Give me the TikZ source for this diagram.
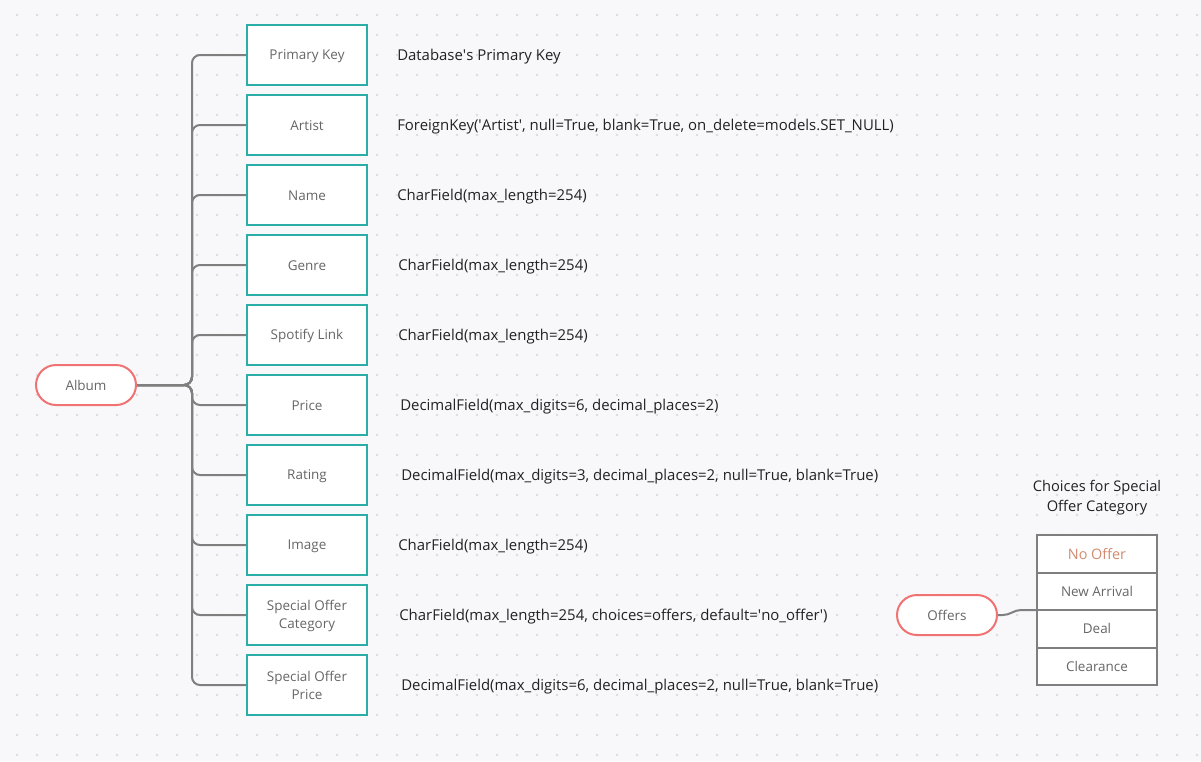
\documentclass[tikz,border=0pt]{standalone}
\usepackage{fontspec}
\setmainfont{Open Sans}
\definecolor{bgc}{HTML}{F8F8FA}
\definecolor{dotc}{HTML}{DCDCE0}
\definecolor{teal}{HTML}{2BADA8}
\definecolor{pill}{HTML}{F07272}
\definecolor{conc}{HTML}{7F7F7F}
\definecolor{labc}{HTML}{666666}
\definecolor{txtc}{HTML}{222222}
\definecolor{offc}{HTML}{D38B70}
\newcommand{\q}{\textquotesingle}
\begin{document}
\begin{tikzpicture}[x=0.75pt,y=-0.75pt,
  labtext/.style={inner sep=0pt,align=center,text=labc,font=\fontsize{10.1}{13.5}\selectfont},
  fieldbox/.style={draw=teal,line width=1.5pt,fill=white,minimum width=90pt,minimum height=45pt,
    inner sep=0pt},
  pillnode/.style={draw=pill,line width=1.5pt,fill=white,rounded corners=15pt,minimum width=75pt,
    minimum height=30pt,inner sep=0pt,text=labc,font=\fontsize{10.1}{13}\selectfont},
  desc/.style={anchor=west,inner sep=0pt,text=txtc,font=\fontsize{11.2}{13}\selectfont},
  conn/.style={draw=conc,line width=1.5pt,rounded corners=6pt},
  rowbox/.style={draw=conc,line width=1.5pt,fill=white,minimum width=90pt,minimum height=28.125pt,
    inner sep=0pt,outer sep=0pt,text=labc,font=\fontsize{10.1}{13}\selectfont}]
\fill[bgc] (0,0) rectangle (1201,761);
\useasboundingbox (0,0) rectangle (1201,761);
\foreach \i in {0,...,59}{
  \foreach \j in {0,...,37}{
    \fill[dotc] (17+20*\i,15+20*\j) circle (1.1pt);
  }
}
\node[pillnode] (album) at (86,385) {Album};
\coordinate (hub) at (192,385);
\foreach \n/\y/\lab/\dx/\txt in {
  1/55/{Primary Key}/397/{Database\q s Primary Key},
  2/125/{Artist}/397/{ForeignKey(\q Artist\q, null=True, blank=True, on\_delete=models.SET\_NULL)},
  3/195/{Name}/397/{CharField(max\_length=254)},
  4/265/{Genre}/398/{CharField(max\_length=254)},
  5/335/{Spotify Link}/398/{CharField(max\_length=254)},
  6/405/{Price}/400/{DecimalField(max\_digits=6, decimal\_places=2)},
  7/475/{Rating}/401/{DecimalField(max\_digits=3, decimal\_places=2, null=True, blank=True)},
  8/545/{Image}/398/{CharField(max\_length=254)},
  9/615/{Special Offer\\Category}/399/{CharField(max\_length=254, choices=offers, default=\q no\_offer\q)},
  10/685/{Special Offer\\Price}/401/{DecimalField(max\_digits=6, decimal\_places=2, null=True, blank=True)}}{
  \node[fieldbox,label={[labtext,yshift=-0.6pt]center:\lab}] (b\n) at (307,\y) {};
  \node[desc] (t\n) at (\dx,\y+2) {\txt};
  \draw[conn] (album.east) -- (hub) |- (b\n.west);
}
\node[pillnode,label={[labtext,yshift=-0.6pt]center:Offers}] (offers) at (947,615) {};
\node[rowbox,text=offc,font=\fontsize{10.8}{13}\selectfont] (r1) at (1097,553.75) {No Offer};
\node[rowbox,anchor=north] (r2) at (r1.south) {New Arrival};
\node[rowbox,anchor=north] (r3) at (r2.south) {Deal};
\node[rowbox,anchor=north] (r4) at (r3.south) {Clearance};
\node[align=center,text=txtc,font=\fontsize{11}{15}\selectfont] (title) at (1097,498) {Choices for Special\\Offer Category};
\coordinate (join) at (r3.north west);
\draw[draw=conc,line width=1.5pt] (offers.east) -- ++(5,0) to[out=0,in=180] ++(18,-5) -- (join);
\end{tikzpicture}
\end{document}
